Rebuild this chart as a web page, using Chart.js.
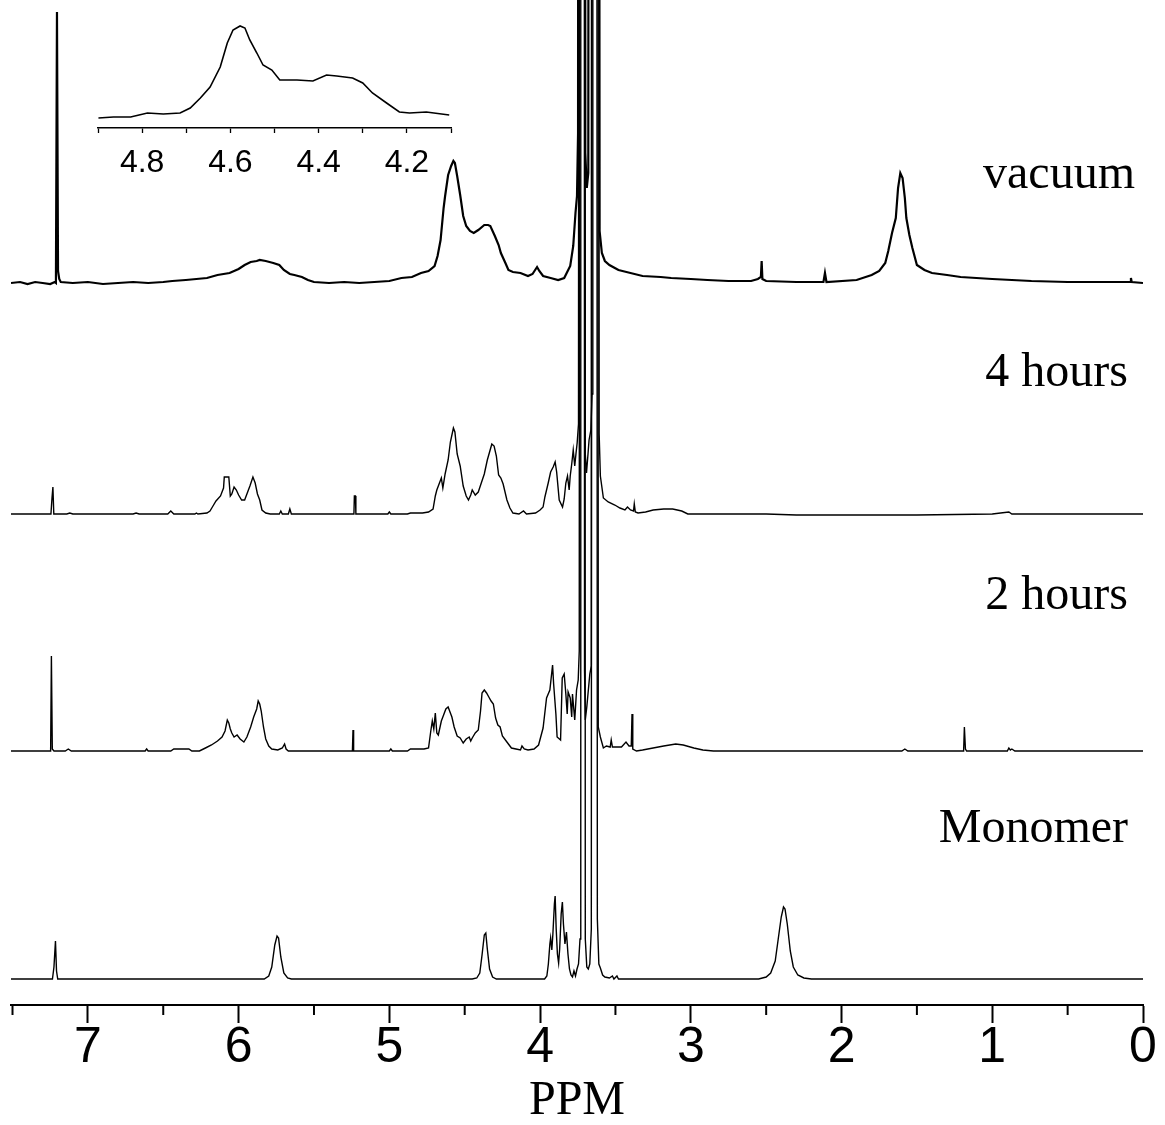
<!DOCTYPE html>
<html>
<head>
<meta charset="utf-8">
<script src="https://cdn.jsdelivr.net/npm/chart.js@4.4.0/dist/chart.umd.min.js"></script>
<style>
  html, body { margin: 0; padding: 0; background: #fff; }
  #wrap { position: relative; width: 1165px; height: 1125px; }
  #main { position: absolute; left: 0; top: 0; }
  #inset { position: absolute; left: 60px; top: 0; }
</style>
</head>
<body>
<div id="wrap">
  <canvas id="main" width="1165" height="1125"></canvas>
  <canvas id="inset" width="420" height="206"></canvas>
</div>
<script>
// 1H NMR traces, [ppm, intensity] (intensity in plot px above each baseline)
const vacuumPeaks = [
  [7.51,0],[7.45,1],[7.40,-1],[7.35,1],[7.30,0],[7.25,-1],[7.22,1],[7.212,0],[7.205,271],[7.198,12],[7.19,4],[7.18,1],
  [7.10,0],[7.00,1],[6.90,-1],[6.80,0],[6.70,1],[6.60,0],[6.50,1],[6.44,2],[6.35,3],[6.28,4],[6.21,5],[6.14,8],
  [6.06,10],[6.00,14],[5.96,18],[5.92,21],[5.88,22],[5.86,23],[5.82,22],[5.77,20],[5.73,18],[5.70,13],[5.66,9],
  [5.63,8],[5.58,6],[5.54,3],[5.50,1],[5.40,0],[5.30,1],[5.20,0],[5.10,1],[5.00,2],[4.92,5],[4.85,6],[4.79,10],
  [4.74,12],[4.70,17],[4.68,27],[4.66,43],[4.64,75],[4.63,87],[4.61,108],[4.59,117],[4.575,122],[4.565,120],
  [4.55,107],[4.53,88],[4.51,67],[4.49,57],[4.465,52],[4.44,50],[4.41,53],[4.37,58],[4.345,58],[4.33,57],
  [4.30,47],[4.275,38],[4.26,30],[4.23,20],[4.21,13],[4.18,11],[4.13,10],[4.08,7],[4.05,9],[4.02,16],[4.005,12],
  [3.98,7],[3.93,5],[3.88,3],[3.84,5],[3.80,17],[3.78,37],[3.765,70],[3.755,87],[3.748,150],[3.74,3000],
  [3.705,3000],[3.70,130],[3.69,95],[3.68,110],[3.67,3000],[3.62,3000],[3.605,52],[3.59,30],[3.57,22],[3.54,18],
  [3.48,13],[3.40,10],[3.32,7],[3.20,6],[3.13,5],[3.00,4],[2.89,3],[2.75,2],[2.60,2],[2.555,4],[2.535,6],[2.53,22],
  [2.525,4],[2.50,2],[2.30,1],[2.12,1],[2.11,10],[2.10,1],[1.90,3],[1.80,8],[1.75,12],[1.71,20],[1.69,32],
  [1.665,50],[1.64,65],[1.625,95],[1.61,110],[1.595,105],[1.58,85],[1.57,65],[1.55,48],[1.53,35],[1.50,18],
  [1.45,13],[1.40,10],[1.30,8],[1.21,6],[1.00,4],[0.74,2],[0.50,1],[0.20,1],[0.085,1],[0.08,5],[0.075,1],[0,0]
];

const hours4Peaks = [
  [7.51,0],[7.35,0],[7.245,0],[7.238,16],[7.232,27],[7.226,0],[7.14,0],[7.12,1],[7.10,0],[6.70,0],[6.68,1],[6.66,0],
  [6.47,0],[6.45,3],[6.43,0],[6.29,0],[6.28,1],[6.27,0],
  [6.21,1],[6.19,3],[6.17,8],[6.15,13],[6.12,18],[6.10,26],[6.095,37],[6.065,37],[6.055,18],[6.045,20],[6.03,27],
  [6.015,24],[6.00,19],[5.98,14],[5.96,14],[5.94,22],[5.925,28],[5.905,37],[5.89,31],[5.875,20],[5.86,14],
  [5.845,4],[5.82,1],[5.79,0],[5.73,0],[5.72,3],[5.71,0],[5.67,0],[5.66,5],[5.65,0],
  [5.235,0],[5.232,18],[5.225,18],[5.222,0],[5.01,0],[5.00,2],[4.99,0],[4.88,0],[4.86,1],[4.78,1],[4.74,2],
  [4.71,5],[4.695,18],[4.685,24],[4.67,30],[4.655,36],[4.645,26],[4.63,40],[4.61,54],[4.595,72],[4.575,86],
  [4.565,82],[4.55,60],[4.53,48],[4.51,28],[4.49,18],[4.475,14],[4.46,19],[4.45,24],[4.43,19],[4.41,22],
  [4.39,31],[4.37,40],[4.35,54],[4.335,62],[4.32,70],[4.305,68],[4.29,58],[4.275,39],[4.26,36],[4.245,30],
  [4.22,14],[4.20,6],[4.18,1],[4.14,0],[4.11,3],[4.09,0],[4.03,1],[4.00,4],
  [3.98,7],[3.968,17],[3.946,31],[3.93,42],[3.913,47],[3.90,52],[3.89,42],[3.873,14],[3.851,7],[3.84,15],
  [3.829,31],[3.818,38],[3.807,24],[3.80,38],[3.79,50],[3.78,64],[3.77,48],[3.762,60],[3.754,71],[3.745,90],
  [3.738,3000],[3.708,3000],[3.70,60],[3.692,41],[3.682,60],[3.675,74],[3.663,84],[3.655,120],[3.65,3000],
  [3.615,3000],[3.608,80],[3.60,38],[3.58,16],[3.548,12],[3.504,9],[3.47,6],[3.437,4],[3.42,7],[3.40,4],
  [3.38,3],[3.375,10],[3.368,2],[3.35,1],[3.30,2],[3.25,4],[3.18,5],[3.12,5],[3.06,3],[3.02,0],[2.50,0],
  [2.30,-1],[1.50,-1],[1.00,0],[0.89,2],[0.87,0],[0,0]
];

const hours2Peaks = [
  [7.51,0],[7.26,0],[7.247,0],[7.242,95],[7.236,2],[7.225,0],[7.15,0],[7.13,2],[7.11,0],[6.62,0],[6.61,2],[6.60,0],
  [6.45,0],[6.43,2],[6.33,2],[6.31,0],
  [6.26,0],[6.22,3],[6.18,6],[6.14,10],[6.11,14],[6.09,20],[6.075,31],[6.065,28],[6.055,22],[6.045,18],[6.03,14],
  [6.01,16],[5.99,12],[5.965,9],[5.945,14],[5.92,24],[5.90,34],[5.88,42],[5.87,50],[5.86,47],[5.85,40],
  [5.835,24],[5.82,12],[5.80,5],[5.78,2],[5.74,1],[5.71,3],[5.695,7],[5.685,2],[5.67,0],
  [5.245,0],[5.241,21],[5.237,0],[5.00,0],[4.99,2],[4.98,0],[4.88,0],[4.86,2],[4.77,2],[4.74,3],
  [4.725,20],[4.715,30],[4.705,22],[4.695,38],[4.685,18],[4.675,16],[4.655,30],[4.64,36],[4.625,42],[4.61,44],
  [4.60,40],[4.585,34],[4.57,24],[4.55,15],[4.53,13],[4.51,8],[4.49,12],[4.47,14],[4.46,10],[4.45,13],[4.43,18],
  [4.41,21],[4.395,40],[4.385,58],[4.37,61],[4.355,58],[4.34,54],[4.325,50],[4.31,47],[4.295,33],[4.28,26],
  [4.265,24],[4.25,15],[4.22,9],[4.19,3],[4.16,2],[4.13,1],[4.12,5],[4.105,2],[4.08,1],[4.04,2],[4.01,6],
  [3.98,23],[3.957,53],[3.935,61],[3.917,86],[3.91,67],[3.895,37],[3.887,14],[3.864,11],[3.853,73],[3.84,77],
  [3.829,57],[3.82,37],[3.814,59],[3.80,53],[3.79,34],[3.785,57],[3.77,31],[3.758,61],[3.747,71],[3.74,100],
  [3.735,3000],[3.71,3000],[3.705,80],[3.70,31],[3.69,44],[3.67,77],[3.66,85],[3.655,3000],[3.62,3000],
  [3.614,24],[3.60,14],[3.58,3],[3.56,5],[3.535,4],[3.528,11],[3.52,4],[3.46,4],[3.43,9],[3.41,5],[3.395,5],
  [3.39,37],[3.385,2],[3.36,0],[3.32,1],[3.25,3],[3.18,5],[3.10,7],[3.05,6],[2.98,3],[2.92,1],[2.85,0],
  [2.00,0],[1.60,0],[1.58,2],[1.56,0],[1.19,0],[1.185,24],[1.178,2],[1.17,0],[0.90,0],[0.89,3],[0.88,1],
  [0.87,2],[0.85,0],[0,0]
];

const monomerPeaks = [
  [7.51,0],[7.235,0],[7.225,12],[7.215,38],[7.208,8],[7.20,0],
  [5.83,0],[5.80,3],[5.78,12],[5.76,34],[5.745,43],[5.735,41],[5.72,22],[5.70,6],[5.675,1],[5.65,0],
  [4.45,0],[4.42,1],[4.40,6],[4.385,24],[4.37,44],[4.36,46],[4.35,30],[4.335,10],[4.315,2],[4.29,0],
  [3.97,0],[3.955,3],[3.945,15],[3.935,35],[3.93,41],[3.922,29],[3.915,45],[3.905,75],[3.90,83],[3.893,50],
  [3.885,25],[3.877,16],[3.87,30],[3.86,65],[3.852,77],[3.845,55],[3.835,35],[3.825,47],[3.815,25],[3.805,10],
  [3.795,4],[3.785,2],[3.775,8],[3.765,3],[3.755,10],[3.745,15],[3.735,40],[3.73,3000],[3.705,3000],[3.70,40],
  [3.69,12],[3.68,10],[3.67,15],[3.66,50],[3.652,3000],[3.628,3000],[3.62,60],[3.61,15],[3.60,11],[3.585,4],
  [3.57,2],[3.54,1],[3.52,3],[3.51,0],[3.49,3],[3.48,0],
  [2.55,0],[2.50,2],[2.47,6],[2.44,18],[2.42,40],[2.40,62],[2.385,72],[2.375,70],[2.36,55],[2.34,28],
  [2.32,12],[2.29,4],[2.25,1],[2.20,0],[0,0]
];

// inset: vacuum trace, 4.9 - 4.1 ppm
const insetPeaks = [
  [4.899,10],[4.865,11],[4.826,11],[4.788,15],[4.752,14],[4.714,15],[4.691,20],[4.668,30],[4.646,41],
  [4.623,61],[4.607,85],[4.594,98],[4.578,102],[4.567,100],[4.556,88],[4.540,75],[4.526,63],[4.506,58],
  [4.488,48],[4.449,48],[4.413,47],[4.382,53],[4.359,52],[4.323,50],[4.300,45],[4.278,35],[4.246,25],
  [4.217,16],[4.194,15],[4.156,16],[4.104,13]
];

const traceNames = ['vacuum', '4 hours', '2 hours', 'Monomer'];
const xMajorTicks = [7, 6, 5, 4, 3, 2, 1, 0];
const xMinorTicks = [7.5, 6.5, 5.5, 4.5, 3.5, 2.5, 1.5, 0.5];
const insetTicks = [4.9, 4.8, 4.7, 4.6, 4.5, 4.4, 4.3, 4.2, 4.1];
const insetLabelled = [4.8, 4.6, 4.4, 4.2];

// layout: stacking offset of each trace, label anchor (px) and line width
const traceLayout = [
  {data: vacuumPeaks,  offset: 722, labelX: 1135, labelY: 188, width: 2.2},
  {data: hours4Peaks,  offset: 491, labelX: 1128, labelY: 386, width: 1.4},
  {data: hours2Peaks,  offset: 254, labelX: 1128, labelY: 609, width: 1.4},
  {data: monomerPeaks, offset: 26,  labelX: 1128, labelY: 842, width: 1.4},
];

const SANS = '"Liberation Sans", Arial, sans-serif';
const SERIF = '"Liberation Serif", "Times New Roman", serif';

const minorTicks = {
  id: 'minorTicks',
  afterDraw(chart) {
    const s = chart.scales.x, ctx = chart.ctx, y0 = chart.chartArea.bottom;
    ctx.save();
    ctx.strokeStyle = '#000';
    ctx.lineWidth = 2;
    xMinorTicks.forEach(v => {
      const px = s.getPixelForValue(v);
      ctx.beginPath(); ctx.moveTo(px, y0); ctx.lineTo(px, y0 + 10); ctx.stroke();
    });
    ctx.restore();
  }
};

const traceLabels = {
  id: 'traceLabels',
  afterDraw(chart) {
    const ctx = chart.ctx;
    ctx.save();
    ctx.fillStyle = '#000';
    ctx.font = '48px ' + SERIF;
    ctx.textAlign = 'right';
    ctx.textBaseline = 'alphabetic';
    traceLayout.forEach((t, i) => ctx.fillText(traceNames[i], t.labelX, t.labelY));
    ctx.restore();
  }
};

new Chart(document.getElementById('main'), {
  type: 'line',
  data: {
    datasets: traceLayout.map((t, i) => ({
      label: traceNames[i],
      data: t.data.map(p => ({x: p[0], y: t.offset + p[1]})),
      borderColor: '#000',
      borderWidth: t.width,
      pointRadius: 0,
      tension: 0,
      fill: false
    }))
  },
  options: {
    responsive: false,
    animation: false,
    events: [],
    layout: {padding: {left: 11, right: 22, top: 0, bottom: 0}},
    plugins: {legend: {display: false}, tooltip: {enabled: false}},
    scales: {
      x: {
        type: 'linear', reverse: true, min: 0, max: 7.51,
        afterBuildTicks: s => { s.ticks = xMajorTicks.map(v => ({value: v})); },
        border: {display: true, color: '#000', width: 2},
        grid: {drawOnChartArea: false, drawTicks: true, tickLength: 18, tickWidth: 2, tickColor: '#000'},
        ticks: {color: '#000', padding: 0, maxRotation: 0, autoSkip: false,
                font: {family: SANS, size: 50, lineHeight: 1},
                callback: v => String(v)},
        title: {display: true, text: 'PPM', color: '#000',
                font: {family: SERIF, size: 48, lineHeight: 1}, padding: {top: 4, bottom: 0}}
      },
      y: {display: false, min: 0, max: 1005}
    }
  },
  plugins: [minorTicks, traceLabels]
});

new Chart(document.getElementById('inset'), {
  type: 'line',
  data: {
    datasets: [{
      data: insetPeaks.map(p => ({x: p[0], y: p[1]})),
      borderColor: '#000', borderWidth: 1.6, pointRadius: 0, tension: 0, fill: false
    }]
  },
  options: {
    responsive: false,
    animation: false,
    events: [],
    layout: {padding: {left: 38, right: 29, top: 15, bottom: 13}},
    plugins: {legend: {display: false}, tooltip: {enabled: false}},
    scales: {
      x: {
        type: 'linear', reverse: true, min: 4.1, max: 4.9,
        afterBuildTicks: s => { s.ticks = insetTicks.map(v => ({value: v})); },
        border: {display: true, color: '#000', width: 1.5},
        grid: {drawOnChartArea: false, tickLength: 5, tickWidth: 1.3, tickColor: '#000'},
        ticks: {color: '#000', padding: 14, maxRotation: 0, autoSkip: false,
                font: {family: SANS, size: 32, lineHeight: 1},
                callback: v => insetLabelled.some(l => Math.abs(l - v) < 1e-6) ? v.toFixed(1) : ''}
      },
      y: {display: false, min: 0, max: 113}
    }
  }
});
</script>
</body>
</html>
